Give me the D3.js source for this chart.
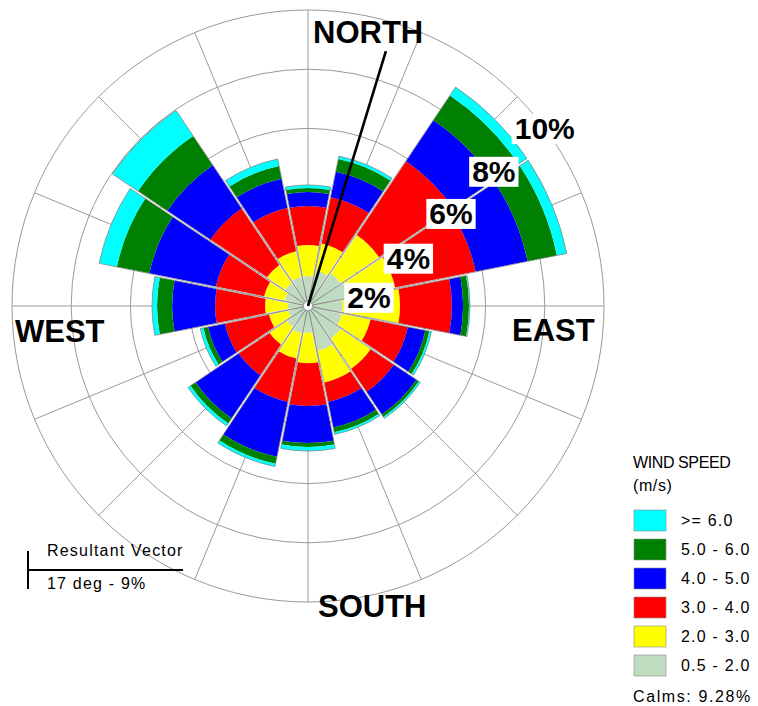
<!DOCTYPE html>
<html>
<head>
<meta charset="utf-8">
<script src="https://cdn.jsdelivr.net/npm/d3@7"></script>
<style>
  body { margin: 0; background: #fff; }
  svg { display: block; font-family: "Liberation Sans", Arial, sans-serif; }
</style>
</head>
<body>
<svg width="758" height="706"></svg>
<script>
// wind directions, clockwise from north
var directions = ["N", "NNE", "NE", "ENE", "E", "ESE", "SE", "SSE",
                  "S", "SSW", "SW", "WSW", "W", "WNW", "NW", "NNW"];

// frequency (%) for each speed class, one value per direction
var speed05to2 = [1.01, 1.22, 1.35, 1.42, 1.18, 1.18, 1.35, 1.55, 0.91, 0.95, 0.88, 0.68, 0.68, 0.81, 0.95, 1.01];
var speed2to3  = [1.05, 0.94, 1.56, 1.59, 1.93, 0.98, 1.22, 1.09, 1.02, 0.87, 0.71, 0.67, 0.77, 0.71, 0.74, 0.88];
var speed3to4  = [1.32, 1.59, 3.00, 2.77, 1.75, 1.29, 0.94, 0.67, 1.45, 1.49, 1.25, 1.52, 1.69, 1.66, 2.30, 1.49];
var speed4to5  = [0.47, 0.88, 1.66, 1.79, 0.38, 0.60, 0.92, 0.88, 1.25, 1.89, 1.75, 0.58, 1.45, 2.29, 1.75, 1.01];
var speed5to6  = [0.14, 0.44, 1.01, 1.01, 0.20, 0.14, 0.10, 0.17, 0.13, 0.24, 0.21, 0.16, 0.51, 1.12, 1.19, 0.44];
var speed6up   = [0.10, 0.10, 0.34, 0.34, 0.03, 0.07, 0.06, 0.07, 0.14, 0.10, 0.10, 0.11, 0.17, 0.61, 1.04, 0.24];

var speedSeries = [speed05to2, speed2to3, speed3to4, speed4to5, speed5to6, speed6up];
var speedLabels = ["0.5 - 2.0", "2.0 - 3.0", "3.0 - 4.0", "4.0 - 5.0", "5.0 - 6.0", ">= 6.0"];
var speedColors = ["#c0dcc0", "#ffff00", "#ff0000", "#0000ff", "#008000", "#00ffff"];

var ringTicks = [2, 4, 6, 8, 10];
var compass = ["NORTH", "EAST", "SOUTH", "WEST"];

var resultantDeg = 17;
var resultantPct = 9;
var calms = 9.28;

var svg = d3.select("svg");
var cx = 308, cy = 306;
var g = svg.append("g").attr("transform", "translate(" + cx + "," + cy + ")");

var r = d3.scaleLinear().domain([0, 10]).range([0, 296]);
var sector = Math.PI * 2 / directions.length;
var rad = function(deg) { return deg * Math.PI / 180; };

// grid: rings and spokes
g.selectAll(".ring")
    .data(ringTicks)
  .enter().append("circle")
    .attr("r", function(d) { return r(d); })
    .attr("fill", "none")
    .attr("stroke", "#9a9a9a")
    .attr("stroke-width", 1);

g.selectAll(".spoke")
    .data(directions)
  .enter().append("line")
    .attr("x1", 0).attr("y1", 0)
    .attr("x2", function(d, i) { return r(10) * Math.sin(i * sector); })
    .attr("y2", function(d, i) { return -r(10) * Math.cos(i * sector); })
    .attr("stroke", "#9a9a9a")
    .attr("stroke-width", 1);

// petals, stacked by speed class
var arc = d3.arc().padAngle(0.022).padRadius(100);

directions.forEach(function(dir, i) {
  var a0 = i * sector - sector / 2, a1 = i * sector + sector / 2;
  var cum = 0;
  var petal = g.append("g");
  speedSeries.forEach(function(series, k) {
    var start = cum;
    cum += series[i];
    petal.append("path")
      .attr("d", arc({innerRadius: r(start), outerRadius: r(cum), startAngle: a0, endAngle: a1}))
      .attr("fill", speedColors[k]);
  });
  petal.append("path")
    .attr("d", arc({innerRadius: 0, outerRadius: r(cum), startAngle: a0, endAngle: a1}))
    .attr("fill", "none")
    .attr("stroke", "#7a7a7a")
    .attr("stroke-width", 0.7);
});

g.append("circle")
    .attr("r", 4.5)
    .attr("fill", "#fff")
    .attr("stroke", "#888")
    .attr("stroke-width", 0.7);

// resultant vector
g.append("line")
    .attr("x1", 0).attr("y1", 0)
    .attr("x2", r(resultantPct) * Math.sin(rad(resultantDeg)))
    .attr("y2", -r(resultantPct) * Math.cos(rad(resultantDeg)))
    .attr("stroke", "#000")
    .attr("stroke-width", 2.6);

// ring labels sit along the NE/ENE gap, nudged a bit
var ringLabelPlace = [[81.6, 1.04], [64.4, 0.94], [57, 0.96], [54, 0.97], [53.1, 1.0]];
ringTicks.forEach(function(v, i) {
  var b = rad(ringLabelPlace[i][0]), rr = r(v) * ringLabelPlace[i][1];
  var lg = g.append("g")
    .attr("transform", "translate(" + (rr * Math.sin(b)) + "," + (-rr * Math.cos(b)) + ")");
  var box = lg.append("rect").attr("fill", "#fff");
  var t = lg.append("text")
    .attr("text-anchor", "middle")
    .attr("dy", "0.36em")
    .style("font-size", "30px")
    .style("font-weight", "bold")
    .text(v + "%");
  var bb = t.node().getBBox();
  box.attr("x", bb.x - 3).attr("y", bb.y + 2)
     .attr("width", bb.width + 6).attr("height", bb.height - 3);
});

// compass names
var compassPos = [[313, 43], [512, 341], [318, 617], [15, 342]];
svg.selectAll(".compass")
    .data(compass)
  .enter().append("text")
    .attr("x", function(d, i) { return compassPos[i][0]; })
    .attr("y", function(d, i) { return compassPos[i][1]; })
    .style("font-size", "31px")
    .style("font-weight", "bold")
    .text(function(d) { return d; });

// resultant vector note
svg.append("line")
    .attr("x1", 28).attr("y1", 551).attr("x2", 28).attr("y2", 589)
    .attr("stroke", "#000").attr("stroke-width", 2);
svg.append("line")
    .attr("x1", 28).attr("y1", 570).attr("x2", 183).attr("y2", 570)
    .attr("stroke", "#000").attr("stroke-width", 2);
svg.append("text")
    .attr("x", 47).attr("y", 556)
    .style("font-size", "16px").style("letter-spacing", "1.2px")
    .text("Resultant Vector");
svg.append("text")
    .attr("x", 47).attr("y", 589)
    .style("font-size", "16px").style("letter-spacing", "1.2px")
    .text(resultantDeg + " deg - " + resultantPct + "%");

// legend
var legend = svg.append("g");
legend.append("text").attr("x", 633).attr("y", 468)
    .style("font-size", "16px").style("letter-spacing", "-0.4px").text("WIND SPEED");
legend.append("text").attr("x", 633).attr("y", 491)
    .style("font-size", "16px").style("letter-spacing", "0.6px").text("(m/s)");

var order = d3.range(speedLabels.length).reverse();
var item = legend.selectAll(".item")
    .data(order)
  .enter().append("g")
    .attr("transform", function(d, j) { return "translate(634," + (510 + j * 29) + ")"; });
item.append("rect")
    .attr("width", 32).attr("height", 21)
    .attr("fill", function(d) { return speedColors[d]; })
    .attr("stroke", "#8a8a8a").attr("stroke-width", 0.6);
item.append("text")
    .attr("x", 47).attr("y", 16)
    .style("font-size", "16px").style("letter-spacing", "1.2px")
    .text(function(d) { return speedLabels[d]; });

legend.append("text").attr("x", 633).attr("y", 702)
    .style("font-size", "16px").style("letter-spacing", "1.6px")
    .text("Calms: " + calms.toFixed(2) + "%");
</script>
</body>
</html>
